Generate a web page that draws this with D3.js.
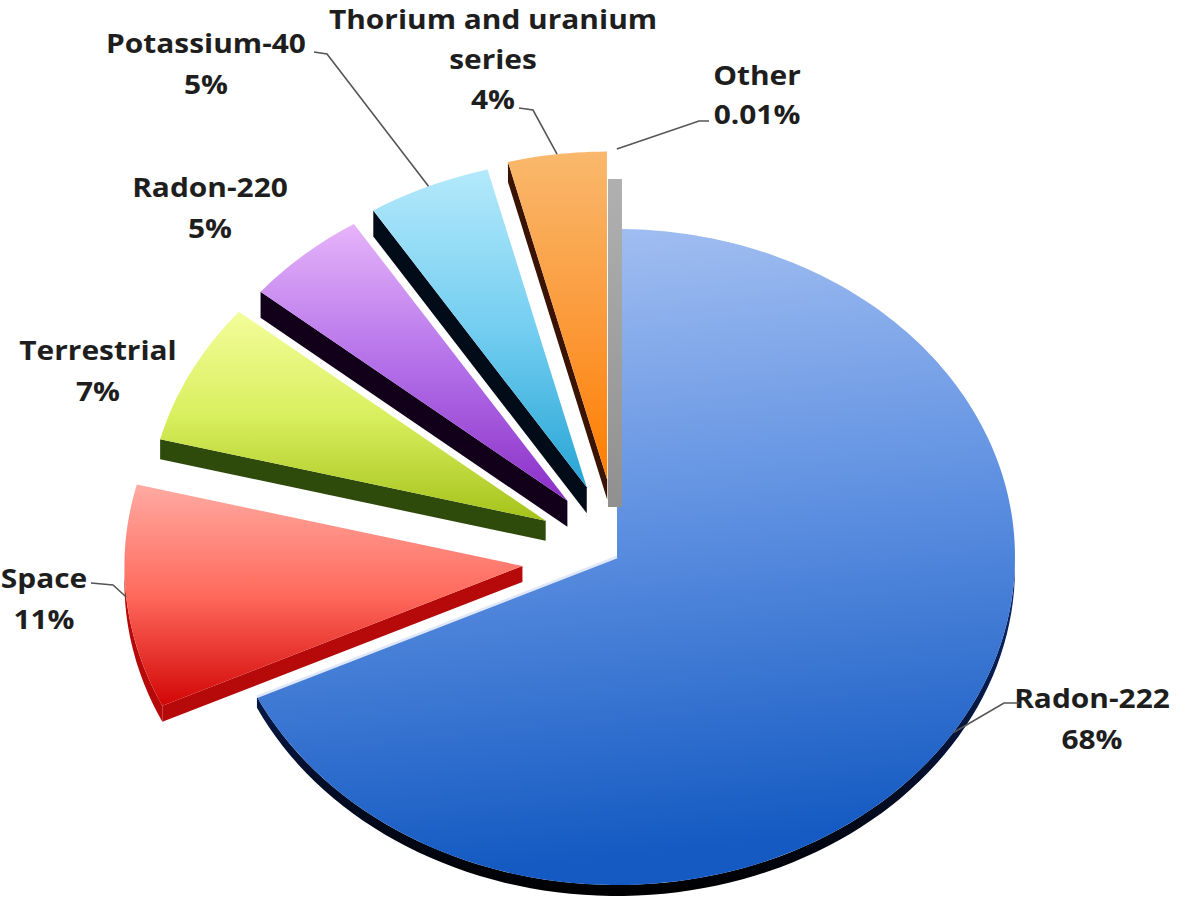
<!DOCTYPE html>
<html>
<head>
<meta charset="utf-8">
<script src="https://cdn.jsdelivr.net/npm/d3@7"></script>
<style>
  html, body { margin: 0; padding: 0; background: #ffffff; }
  svg { display: block; }
  text { font-family: "Open Sans", "Liberation Sans", sans-serif; font-weight: 700; fill: #1e1e1e; }
</style>
</head>
<body>
<svg id="chart" width="1200" height="922"></svg>
<script>
// Sources of natural background radiation dose
const categories = ["Radon-222", "Space", "Terrestrial", "Radon-220", "Potassium-40", "Thorium and uranium series", "Other"];
const shares = [68, 11, 7, 5, 5, 4, 0.01];
const shareLabels = shares.map(v => v + "%");

// Styling / layout per slice (same order as categories)
const topColors = [
  ["#a9c3f3", "#5e90e1", "#145ac2"],
  ["#ffaaa2", "#ff6a5c", "#d20606"],
  ["#f3fd9a", "#d9ef5e", "#a4c21a"],
  ["#e6b4fa", "#b471e9", "#8a2fc7"],
  ["#b4e9fb", "#74cef1", "#26a4d5"],
  ["#f9b86c", "#fb9b3c", "#ff7d00"],
  ["#b0b0b0", "#a0a0a0", "#909090"]
];
const wallColors = ["#04112e", "#b60909", "#2f4b0b", "#12001a", "#020b18", "#3a1303", "#9b9b9b"];
const explode = [0, 95, 80, 75, 76, 78, 50];
const wallDepth = [11, 16, 20, 26, 26, 20, 0];
const leaderPad = [0, 0, 0, 0, 0, 0, 30];

// Label anchors: [x centre, first baseline, line gap] and leader start points
const labelPos = [[1092, 708, 41], [44, 588, 41], [98, 360, 41], [210, 197, 41], [206, 53, 41], [493, 29, 40], [757, 85, 39]];
const leaderStart = [
  [[1019, 703], [1004, 703]],
  [[91, 583], [113, 585]],
  null,
  null,
  [[314, 52], [327, 54]],
  [[519, 108], [533, 110]],
  [[709, 121], [699, 121]]
];

const cx = 617, cy = 557, rx = 398, ry = 328;

const svg = d3.select("#chart");
const defs = svg.append("defs");

topColors.forEach((c, i) => {
  const g = defs.append("linearGradient").attr("id", "top" + i)
    .attr("x1", 0).attr("y1", 0).attr("x2", i === 0 ? 0.12 : 0).attr("y2", 1);
  g.append("stop").attr("offset", 0).attr("stop-color", c[0]);
  g.append("stop").attr("offset", 0.5).attr("stop-color", c[1]);
  g.append("stop").attr("offset", 1).attr("stop-color", c[2]);
});
const wg = defs.append("linearGradient").attr("id", "wallBlue").attr("x1", 0).attr("y1", 0).attr("x2", 0).attr("y2", 1);
wg.append("stop").attr("offset", 0).attr("stop-color", "#0b2a78");
wg.append("stop").attr("offset", 1).attr("stop-color", "#000000");

const arcs = d3.pie().sort(null).value(d => d).startAngle(0).endAngle(2 * Math.PI)(shares);

function pt(a, off, extra = 0) {
  return [cx + off[0] + (rx + extra) * Math.sin(a), cy + off[1] - (ry + extra) * Math.cos(a)];
}
function sample(a0, a1, n) {
  return d3.range(n + 1).map(k => a0 + (a1 - a0) * k / n);
}
const line = d3.line();

const geo = arcs.map((a, i) => {
  const mid = (a.startAngle + a.endAngle) / 2;
  const off = [explode[i] * Math.sin(mid), -explode[i] * Math.cos(mid)];
  return { a, i, mid, off, tip: [cx + off[0], cy + off[1]] };
});

const pieG = svg.append("g");

function drawSlice(s) {
  const { a, i, off, tip } = s;
  const a0 = a.startAngle, a1 = a.endAngle;
  const h = wallDepth[i];
  const g = pieG.append("g");

  if (a1 - a0 < 0.01) {
    // near-zero slice: only its side face shows as a thin band
    const outer = pt(a1, off);
    g.append("path")
      .attr("d", line([[tip[0] - 9, tip[1]], [outer[0] - 9, outer[1]], [outer[0] + 5, outer[1]], [tip[0] + 5, tip[1]]]) + "Z")
      .attr("fill", "url(#top" + i + ")");
    return;
  }

  const wallFill = i === 0 ? "url(#wallBlue)" : wallColors[i];
  // radial side walls facing the viewer
  [[a0, Math.sin(a0) < -1e-6], [a1, Math.sin(a1) > 1e-6]].forEach(([ang, vis]) => {
    if (!vis) return;
    const o = pt(ang, off);
    g.append("path")
      .attr("d", line([tip, o, [o[0], o[1] + h], [tip[0], tip[1] + h]]) + "Z")
      .attr("fill", wallColors[i]);
  });
  // curved outer wall on the lower half
  const lo = Math.max(a0, Math.PI / 2), hi = Math.min(a1, 3 * Math.PI / 2);
  if (hi > lo) {
    const pts = sample(lo, hi, 80).map(t => pt(t, off));
    const low = pts.map(p => [p[0], p[1] + h]).reverse();
    g.append("path").attr("d", line(pts.concat(low)) + "Z").attr("fill", wallFill);
  }
  // top face
  const n = Math.max(8, Math.ceil((a1 - a0) / 0.02));
  const rim = sample(a0, a1, n).map(t => pt(t, off));
  g.append("path").attr("d", line([tip].concat(rim)) + "Z").attr("fill", "url(#top" + i + ")");

  if (i === 0) {
    // light bevel along the lower-left straight edge
    g.append("path").attr("d", line([tip, pt(a1, off)]))
      .attr("stroke", "#dfe8fb").attr("stroke-width", 2.5).attr("fill", "none");
  }
}

[0, 6, 5, 4, 3, 2, 1].forEach(i => drawSlice(geo[i]));

// labels with leader lines
const labG = svg.append("g");

function wrap(name, maxChars) {
  const words = name.split(" ");
  const lines = [];
  let cur = "";
  words.forEach(w => {
    const t = cur ? cur + " " + w : w;
    if (t.length > maxChars && cur) { lines.push(cur); cur = w; } else cur = t;
  });
  if (cur) lines.push(cur);
  return lines;
}

geo.forEach(s => {
  const i = s.i;
  const lines = wrap(categories[i], 20).concat([shareLabels[i]]);
  const [lx, ly, gap] = labelPos[i];
  lines.forEach((txt, k) => {
    labG.append("text")
      .attr("transform", `translate(${lx},${ly + k * gap}) scale(1.15,1)`)
      .attr("text-anchor", "middle")
      .attr("font-size", 26)
      .text(txt);
  });
  if (leaderStart[i]) {
    const end = pt(s.mid, s.off, leaderPad[i]);
    labG.append("path")
      .attr("d", line(leaderStart[i].concat([end])))
      .attr("fill", "none").attr("stroke", "#555").attr("stroke-width", 1.6);
  }
});
</script>
</body>
</html>
